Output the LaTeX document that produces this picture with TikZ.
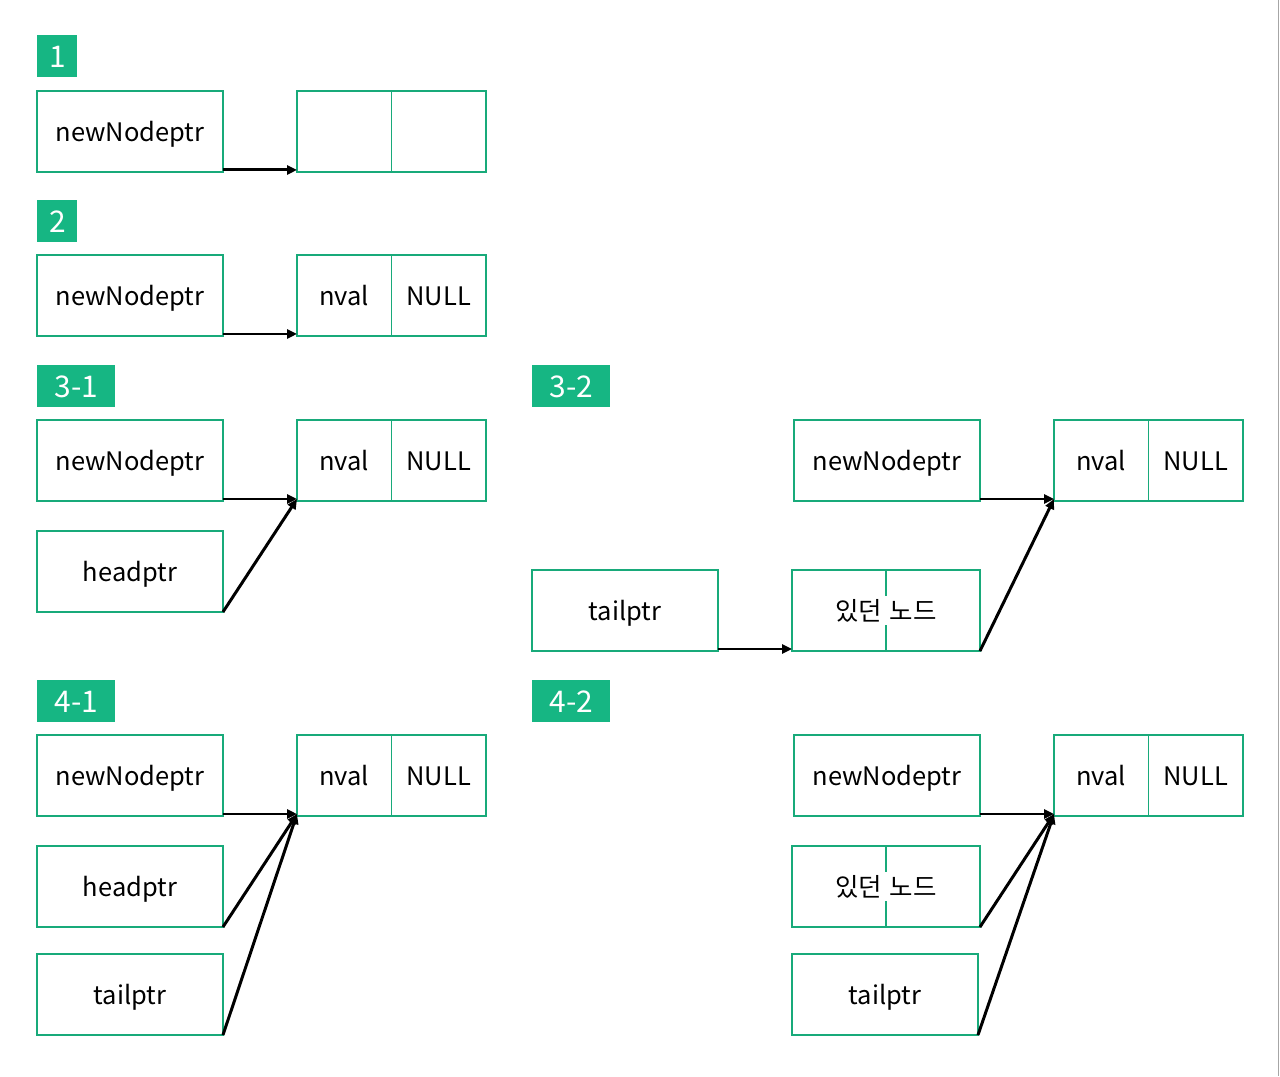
\documentclass[tikz,border=0pt]{standalone}
\usepackage{fontspec}
\setmainfont{Noto Sans CJK KR}
\usetikzlibrary{
    positioning,
    arrows.meta
}
\definecolor{tagfill}{RGB}{22,182,131}
\definecolor{boxline}{RGB}{24,170,122}
\tikzset{
    line/.style = {
        line width=1.7pt,
        -{Triangle[length=2mm, width=1.8mm]}
    },
    % Pointer box:
    ptr node/.style = {
        draw = boxline,
        line width = 0.85pt,
        rectangle,
        minimum width = 3.72cm,
        minimum height = 1.62cm,
        inner sep = 0pt,
        outer sep = 0pt,
        text height = 1.3em,
        text depth = 0.12em,
        anchor = north west,
        font = \fontsize{14.5}{16}\selectfont
    },
    % One half of a list node:
    cell node/.style = {
        ptr node,
        minimum width = 1.89cm
    },
    % Text over the split line:
    split text/.style = {
        fill = white,
        inner sep = 1pt,
        text height = 1.3em,
        text depth = 0.12em,
        font = \fontsize{14.5}{16}\selectfont
    },
    % Step tag:
    stage tag/.style = {
        fill = tagfill,
        text = white,
        minimum height = 0.84cm,
        inner sep = 0pt,
        anchor = north west,
        font = \fontsize{17}{19}\selectfont
    }
}

\begin{document}
\begin{tikzpicture}[x=0.02cm, y=-0.02cm]
            \useasboundingbox (0, 0) rectangle (1280, 1076);
            \draw [black!35, line width=1pt] (1278.5, 0) -- (1278.5, 1076);
            % 1
            \node [stage tag, minimum width=0.8cm] (tag1) at (37, 35) {1};
            \node [ptr node] (new1) at (37, 91) {newNodeptr};
            \node [cell node] (val1) at (297, 91) {};
            \node [cell node, right=0pt of val1] (nxt1) {};
            \draw [line] ([yshift=0.04cm]new1.south east) -- ([yshift=0.04cm]val1.south west);
            % 2
            \node [stage tag, minimum width=0.8cm] (tag2) at (37, 200) {2};
            \node [ptr node] (new2) at (37, 255) {newNodeptr};
            \node [cell node] (val2) at (297, 255) {nval};
            \node [cell node, right=0pt of val2] (nxt2) {NULL};
            \draw [line] ([yshift=0.04cm]new2.south east) -- ([yshift=0.04cm]val2.south west);
            % 3-1
            \node [stage tag, minimum width=1.56cm] (tag31) at (37, 365) {3-1};
            \node [ptr node] (new31) at (37, 420) {newNodeptr};
            \node [cell node] (val31) at (297, 420) {nval};
            \node [cell node, right=0pt of val31] (nxt31) {NULL};
            \node [ptr node] (head31) at (37, 531) {headptr};
            \draw [line] ([yshift=0.04cm]new31.south east) -- ([yshift=0.04cm]val31.south west);
            \draw [line] (head31.south east) -- ([yshift=0.04cm]val31.south west);
            % 3-2
            \node [stage tag, minimum width=1.56cm] (tag32) at (532, 365) {3-2};
            \node [ptr node] (new32) at (794, 420) {newNodeptr};
            \node [cell node] (val32) at (1054, 420) {nval};
            \node [cell node, right=0pt of val32] (nxt32) {NULL};
            \node [ptr node] (tail32) at (532, 570) {tailptr};
            \node [ptr node, minimum width=3.76cm] (old32) at (792, 570) {};
            \draw [boxline, line width=0.85pt] (old32.north) -- (old32.south);
            \node [split text] (old32 text) at (old32.center) {있던\hspace{0.3em}노드};
            \draw [line] ([yshift=0.04cm]new32.south east) -- ([yshift=0.04cm]val32.south west);
            \draw [line] ([yshift=0.04cm]tail32.south east) -- ([yshift=0.04cm]old32.south west);
            \draw [line] (old32.south east) -- ([yshift=0.04cm]val32.south west);
            % 4-1
            \node [stage tag, minimum width=1.56cm] (tag41) at (37, 680) {4-1};
            \node [ptr node] (new41) at (37, 735) {newNodeptr};
            \node [cell node] (val41) at (297, 735) {nval};
            \node [cell node, right=0pt of val41] (nxt41) {NULL};
            \node [ptr node] (head41) at (37, 846) {headptr};
            \node [ptr node] (tail41) at (37, 954) {tailptr};
            \draw [line] ([yshift=0.04cm]new41.south east) -- ([yshift=0.04cm]val41.south west);
            \draw [line] (head41.south east) -- ([yshift=0.04cm]val41.south west);
            \draw [line] (tail41.south east) -- ([yshift=0.04cm]val41.south west);
            % 4-2
            \node [stage tag, minimum width=1.56cm] (tag42) at (532, 680) {4-2};
            \node [ptr node] (new42) at (794, 735) {newNodeptr};
            \node [cell node] (val42) at (1054, 735) {nval};
            \node [cell node, right=0pt of val42] (nxt42) {NULL};
            \node [ptr node, minimum width=3.76cm] (old42) at (792, 846) {};
            \draw [boxline, line width=0.85pt] (old42.north) -- (old42.south);
            \node [split text] (old42 text) at (old42.center) {있던\hspace{0.3em}노드};
            \node [ptr node] (tail42) at (792, 954) {tailptr};
            \draw [line] ([yshift=0.04cm]new42.south east) -- ([yshift=0.04cm]val42.south west);
            \draw [line] (old42.south east) -- ([yshift=0.04cm]val42.south west);
            \draw [line] (tail42.south east) -- ([yshift=0.04cm]val42.south west);
        \end{tikzpicture}
\end{document}
